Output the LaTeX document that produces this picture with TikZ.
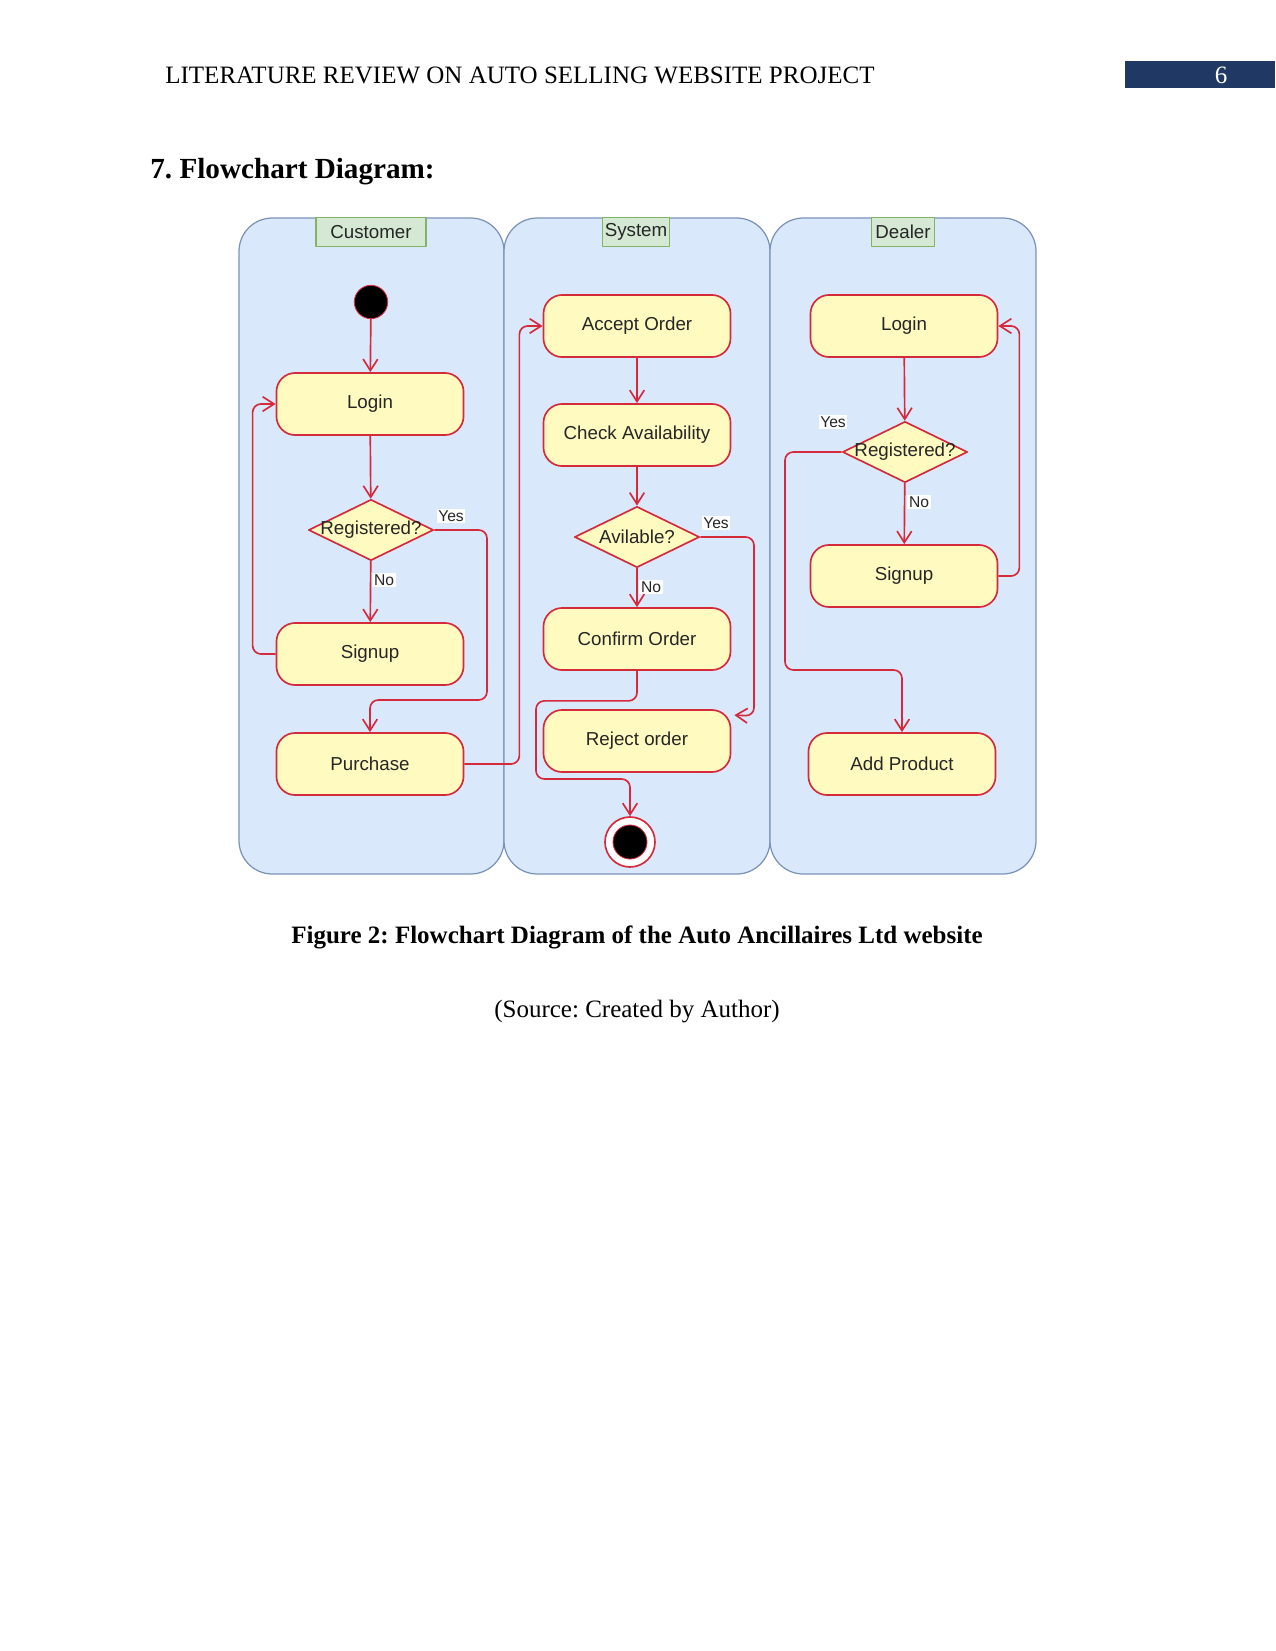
\documentclass[tikz,border=0pt]{standalone}
\usepackage{fontspec}
\setmainfont{Liberation Serif}
\setsansfont{Liberation Sans}
\usepackage{xcolor}
\usepackage{tikz}
\usetikzlibrary{arrows.meta,shapes.geometric}
\definecolor{laneblue}{HTML}{DAE8FC}
\definecolor{laneedge}{HTML}{7C93B8}
\definecolor{titlegreen}{HTML}{D5E8D4}
\definecolor{titleedge}{HTML}{82B366}
\definecolor{actfill}{HTML}{FFFAC0}
\definecolor{flowred}{HTML}{D42A3C}
\definecolor{pageblue}{HTML}{1F3864}
\frenchspacing

\begin{document}
\begin{tikzpicture}[
    x=0.48pt,
    y=-0.48pt,
    every path/.style={line join=round},
    activity/.style={rectangle,rounded corners=9pt,draw=flowred,fill=actfill,
      line width=0.8pt,minimum width=89.8pt,minimum height=29.8pt,
      text=black!85,font=\sffamily\fontsize{9}{10}\selectfont},
    decision/.style={diamond,draw=flowred,fill=actfill,line width=0.8pt,
      minimum width=60pt,minimum height=29.3pt,inner sep=0pt},
    declabel/.style={text=black!85,font=\sffamily\fontsize{9}{10}\selectfont},
    lanetitle/.style={rectangle,draw=titleedge,fill=titlegreen,line width=0.5pt,
      minimum height=13.9pt,inner sep=1pt,text=black!85,
      font=\sffamily\fontsize{9}{10}\selectfont},
    flow/.style={draw=flowred,line width=0.8pt,rounded corners=4pt,
      -{Straight Barb[length=5.5pt,width=7pt]}},
    yesno/.style={fill=white,inner sep=0.8pt,text=black!85,
      font=\sffamily\fontsize{7.5}{8}\selectfont}
  ]
    \useasboundingbox (0,0) rectangle (1275,1651);

    % Running head and page number.
    \node[anchor=west,font=\fontsize{12}{14}\selectfont] (runhead) at (158,75)
      {LITERATURE REVIEW ON AUTO SELLING WEBSITE PROJECT};
    \fill[pageblue] (1125,61) rectangle (1275,88);
    \node[text=white,font=\fontsize{12}{14}\selectfont] (pageno) at (1221,75) {6};

    \node[anchor=west,font=\bfseries\fontsize{14}{16}\selectfont] (heading) at (143,172)
      {7. Flowchart Diagram:};

    % Swim lanes.
    \foreach \xa/\xb in {239/504,504/770,770/1036}{%
      \draw[laneedge,fill=laneblue,line width=0.6pt,rounded corners=16pt]
        (\xa,218) rectangle (\xb,874);
    }
    \node[lanetitle,minimum width=52.8pt] (custtitle) at (371,232) {Customer};
    \node[lanetitle,minimum width=30pt] (systitle) at (636,232) {System};
    \node[lanetitle,minimum width=30pt] (dealtitle) at (903,232) {Dealer};

    % Customer lane.
    \node[circle,draw=flowred,fill=black,minimum size=16pt,inner sep=0pt] (cStart) at (371,302) {};
    \node[activity] (cLogin) at (370,404) {Login};
    \node[decision,label={[declabel]center:Registered?}] (cReg) at (371,530) {};
    \node[activity] (cSignup) at (370,654) {Signup};
    \node[activity] (cPurchase) at (370,764) {Purchase};

    % System lane.
    \node[activity] (sAccept) at (637,326) {Accept Order};
    \node[activity] (sCheck) at (637,435) {Check Availability};
    \node[decision,label={[declabel]center:Avilable?}] (sAvail) at (637,537) {};
    \node[activity] (sConfirm) at (637,639) {Confirm Order};
    \node[activity] (sReject) at (637,741) {Reject order};
    \node[circle,draw=flowred,fill=white,line width=0.8pt,minimum size=24pt,inner sep=0pt] (sEnd) at (630,842) {};
    \fill[black,draw=flowred,line width=0.4pt] (sEnd) circle[radius=17];

    % Dealer lane.
    \node[activity] (dLogin) at (904,326) {Login};
    \node[decision,label={[declabel]center:Registered?}] (dReg) at (905,452) {};
    \node[activity] (dSignup) at (904,576) {Signup};
    \node[activity] (dAdd) at (902,764) {Add Product};

    % Customer flow.
    \draw[flow] (cStart) -- (cLogin);
    \draw[flow] (cLogin) -- (cReg);
    \draw[flow] (cReg) -- (cSignup);
    \draw[flow] (cReg.east) -| (487,700) -| (cPurchase.north);
    \draw[flow] (cSignup.west) -- ++(-23,0) |- (cLogin.west);
    \draw[flow] (cPurchase.east) -- ++(55,0) |- (sAccept.west);
    \node[yesno] (cYes) at (451,516) {Yes};
    \node[yesno] (cNo) at (384,580) {No};

    % System flow.
    \draw[flow] (sAccept) -- (sCheck);
    \draw[flow] (sCheck) -- (sAvail);
    \draw[flow] (sAvail) -- (sConfirm);
    \draw[flow] (sAvail.east) -| (754,716) -- ([shift={(3,6)}]sReject.north east);
    \draw[flow] (sConfirm.south) -- ++(0,30) -| (536,779) -| (sEnd.north);
    \node[yesno] (sYes) at (716,523) {Yes};
    \node[yesno] (sNo) at (651,587) {No};

    % Dealer flow.
    \draw[flow] (dLogin) -- (dReg);
    \draw[flow] (dReg) -- (dSignup);
    \draw[flow] (dReg.west) -| (785,670) -| (dAdd.north);
    \draw[flow] (dSignup.east) -- ++(21,0) |- (dLogin.east);
    \node[yesno] (dYes) at (833,422) {Yes};
    \node[yesno] (dNo) at (919,502) {No};

    % Caption.
    \node[font=\bfseries\fontsize{12}{14}\selectfont] (caption) at (637,937)
      {Figure 2: Flowchart Diagram of the Auto Ancillaires Ltd website};
    \node[font=\fontsize{12}{14}\selectfont] (source) at (637,1012)
      {(Source: Created by Author)};
  \end{tikzpicture}
\end{document}
